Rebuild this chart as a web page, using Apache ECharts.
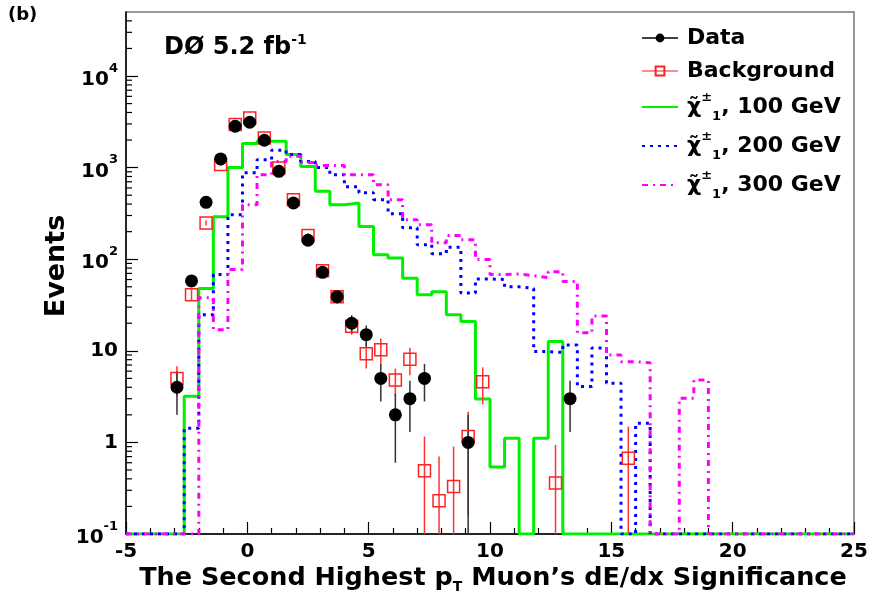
<!DOCTYPE html>
<html><head><meta charset="utf-8">
<script src="https://cdn.jsdelivr.net/npm/echarts@6/dist/echarts.min.js"></script>
<style>html,body{margin:0;padding:0;background:#fff}#c{width:876px;height:601px}</style>
</head><body><div id="c"></div>
<script>
// ---------- data ----------
const binEdges = [-5.0,-4.4,-3.8,-3.2,-2.6,-2.0,-1.4,-0.8,-0.2,0.4,1.0,1.6,2.2,2.8,3.4,4.0,4.6,5.2,5.8,6.4,7.0,7.6,8.2,8.8,9.4,10.0,10.6,11.2,11.8,12.4,13.0,13.6,14.2,14.8,15.4,16.0,16.6,17.2,17.8,18.4,19.0,19.6,20.2,20.8,21.4,22.0,22.6,23.2,23.8,24.4,25.0];

const sig100 = [0,0,0,0,3.2,48,290,1000,1830,1940,1940,1390,1030,551,394,411,228,112,103,62,41,44,24.7,20.9,2.97,0.54,1.11,0,1.11,12.6,0,0,0,0,0,0,0,0,0,0,0,0,0,0,0,0,0,0,0,0];
const sig200 = [0,0,0,0,1.43,24.7,68,306,881,1222,1545,1387,1164,1000,838,620,533,447,314,221,144,115,135,42.8,61,60,50,48,9.8,9.6,11.6,4.07,10.7,4.43,0,1.62,0,0,0,0,0,0,0,0,0,0,0,0,0,0];
const sig300 = [0,0,0,0,0,38,17,77,394,838,1164,1330,1135,1052,1052,838,838,651,447,270,238,151,181,163,99,68,69,66,63,73,57,15.7,24,9.0,7.6,7.4,0,0,3.04,4.8,0,0,0,0,0,0,0,0,0,0];

const dataX   = [-2.9,-2.3,-1.7,-1.1,-0.5,0.1,0.7,1.3,1.9,2.5,3.1,3.7,4.3,4.9,5.5,6.1,6.7,7.3,9.1,13.3];
const dataY   = [4,58,418,1245,2830,3130,1990,912,411,161,72,39,20,15,5,2,3,5,1,3];
const dataErr = [2,7.6,20,35,53,56,45,30,20,12.7,8.5,6.2,4.5,3.9,2.2,1.4,1.7,2.2,1,1.7];

const bkgX   = [-2.9,-2.3,-1.7,-1.1,-0.5,0.1,0.7,1.3,1.9,2.5,3.1,3.7,4.3,4.9,5.5,6.1,6.7,7.3,7.9,8.5,9.1,9.7,12.7,15.7];
const bkgY   = [5.0,41,249,1080,2950,3490,2110,993,447,181,75,39,18.5,9.3,10.3,4.8,8.1,0.49,0.23,0.33,1.16,4.6,0.36,0.67];
const bkgErr = [1.8,6,15,30,50,55,45,30,20,12,8,6,3.5,2.9,3.3,1.6,2.7,0.67,0.47,0.57,1.0,2.0,0.58,0.82];

const xTicks = {min: -5, max: 25, interval: 5};
const yRange = {min: 0.1, max: 5e4};

const nameData = 'Data', nameBkg = 'Background';
const name100 = '\u03C7\u0303\u00B1\u2081, 100 GeV';
const name200 = '\u03C7\u0303\u00B1\u2081, 200 GeV';
const name300 = '\u03C7\u0303\u00B1\u2081, 300 GeV';

// ---------- helpers ----------
const FF = 'DejaVu Sans';
const yMin = yRange.min;
function stepData(vals) {
  const pts = vals.map((v, i) => [binEdges[i], Math.max(v, yMin)]);
  pts.push([binEdges[vals.length], Math.max(vals[vals.length - 1], yMin)]);
  return pts;
}
function errSeries(xs, ys, es, color, width) {
  return {
    type: 'custom', silent: true, z: 3, clip: true,
    data: xs.map((x, i) => [x, Math.max(ys[i] - es[i], yMin), ys[i] + es[i]]),
    encode: {x: 0, y: [1, 2]},
    renderItem: (params, api) => {
      const lo = api.coord([api.value(0), api.value(1)]);
      const hi = api.coord([api.value(0), api.value(2)]);
      return {type: 'line', shape: {x1: lo[0], y1: lo[1], x2: hi[0], y2: hi[1]},
              style: {stroke: color, lineWidth: width}};
    }
  };
}
const yMinor = [];
for (let d = -1; d <= 4; d++) for (let m = 2; m <= 9; m++) {
  const v = m * Math.pow(10, d); if (v < yRange.max) yMinor.push(v);
}

const chart = echarts.init(document.getElementById('c'), null, {renderer: 'canvas'});
const option = {
  animation: false,
  backgroundColor: '#fff',
  grid: {left: 126, right: 22, top: 12, bottom: 67, show: true, borderColor: '#777', borderWidth: 1.5},
  xAxis: {
    type: 'value', min: xTicks.min, max: xTicks.max, interval: xTicks.interval,
    axisLine: {onZero: false, lineStyle: {color: '#000', width: 1.5}},
    axisTick: {inside: true, length: 12, lineStyle: {color: '#000', width: 1.2}},
    minorTick: {show: true, splitNumber: 5, length: 6, lineStyle: {color: '#000', width: 1.2}},
    splitLine: {show: false},
    axisLabel: {fontFamily: FF, fontWeight: 'bold', fontSize: 20, color: '#000', margin: 8}
  },
  yAxis: {
    type: 'log', logBase: 10, min: yRange.min, max: yRange.max,
    axisLine: {onZero: false, lineStyle: {color: '#000', width: 1.5}},
    axisTick: {inside: true, length: 12, lineStyle: {color: '#000', width: 1.2}},
    splitLine: {show: false},
    axisLabel: {
      margin: 8, showMaxLabel: false,
      formatter: v => {
        const e = Math.round(Math.log10(v));
        if (e === 0) return '{b|1}';
        if (e === 1) return '{b|10}';
        return '{bb|10}{s|' + e + '}';
      },
      rich: {
        b: {fontFamily: FF, fontWeight: 'bold', fontSize: 20, color: '#000', lineHeight: 28},
        bb: {fontFamily: FF, fontWeight: 'bold', fontSize: 20, color: '#000', lineHeight: 28, padding: [8, 0, 0, 0]},
        s: {fontFamily: FF, fontWeight: 'bold', fontSize: 13, color: '#000', verticalAlign: 'top', lineHeight: 14}
      }
    }
  },
  legend: {
    orient: 'vertical', left: 636, top: 20, itemWidth: 36, itemHeight: 11, itemGap: 7,
    selectedMode: false,
    data: [
      {name: nameData, lineStyle: {color: '#000', width: 1.5, opacity: 1, type: 'solid'}},
      {name: nameBkg, lineStyle: {color: '#ff6666', width: 1.5, opacity: 1, type: 'solid'}},
      {name: name100, itemStyle: {opacity: 0}},
      {name: name200, itemStyle: {opacity: 0}},
      {name: name300, itemStyle: {opacity: 0}}
    ],
    formatter: n => {
      const m = n.match(/(\d+) GeV/);
      if (m) return '{c|\u03C7\u0303}{p|\u00B1}{q|1}{t|, ' + m[1] + ' GeV}';
      return '{t|' + n + '}';
    },
    textStyle: {
      padding: [0, 0, 0, 4],
      rich: {
        t: {fontFamily: FF, fontWeight: 'bold', fontSize: 22, color: '#000', lineHeight: 29, padding: [2, 0, 2, 0]},
        c: {fontFamily: FF, fontWeight: 'bold', fontSize: 22, color: '#000', lineHeight: 32},
        p: {fontFamily: FF, fontWeight: 'bold', fontSize: 13, color: '#000', verticalAlign: 'top', lineHeight: 13},
        q: {fontFamily: FF, fontWeight: 'bold', fontSize: 13, color: '#000', verticalAlign: 'bottom', lineHeight: 13}
      }
    }
  },
  graphic: [
    {type: 'text', left: 8, top: 6, style: {text: '(b)', fontFamily: FF, fontWeight: 'bold', fontSize: 18, fill: '#000'}},
    {type: 'text', left: 164, top: 33, style: {
      text: '{a|D\u00D8 5.2 fb}{s|-1}',
      rich: {a: {fontFamily: FF, fontWeight: 'bold', fontSize: 24, fill: '#000', lineHeight: 30},
             s: {fontFamily: FF, fontWeight: 'bold', fontSize: 14, fill: '#000', verticalAlign: 'top', lineHeight: 14}}}},
    {type: 'text', x: 493, y: 578, style: {
      text: '{a|The Second Highest p}{s|T}{a| Muon\u2019s dE/dx Significance}',
      align: 'center', verticalAlign: 'middle',
      rich: {a: {fontFamily: FF, fontWeight: 'bold', fontSize: 25.5, fill: '#000', lineHeight: 32},
             s: {fontFamily: FF, fontWeight: 'bold', fontSize: 14, fill: '#000', verticalAlign: 'bottom', lineHeight: 14}}}},
    {type: 'text', x: 57, y: 266, rotation: Math.PI / 2, style: {
      text: 'Events', fontFamily: FF, fontWeight: 'bold', fontSize: 27, fill: '#000', align: 'center', verticalAlign: 'middle'}}
  ],
  series: [
    {type: 'custom', silent: true, z: 1, clip: false,
     data: yMinor.map(v => [xTicks.min, v]), encode: {x: 0, y: 1},
     renderItem: (params, api) => {
       const p = api.coord([api.value(0), api.value(1)]);
       return {type: 'line', shape: {x1: p[0], y1: p[1], x2: p[0] + 6, y2: p[1]}, style: {stroke: '#000', lineWidth: 1.2}};
     }},
    {name: name100, type: 'line', step: 'end', symbol: 'none', data: stepData(sig100), z: 2,
     lineStyle: {color: '#00f000', width: 3}, itemStyle: {color: '#00f000'}},
    {name: name200, type: 'line', step: 'end', symbol: 'none', data: stepData(sig200), z: 2,
     lineStyle: {color: '#0000ff', width: 3, type: [3, 5]}, itemStyle: {color: '#0000ff'}},
    {name: name300, type: 'line', step: 'end', symbol: 'none', data: stepData(sig300), z: 2,
     lineStyle: {color: '#ff00ff', width: 3, type: [6, 5, 2, 5]}, itemStyle: {color: '#ff00ff'}},
    errSeries(bkgX, bkgY, bkgErr, '#ff3333', 1.5),
    {name: nameBkg, type: 'line', data: bkgX.map((x, i) => [x, bkgY[i]]), z: 4,
     symbol: 'rect', symbolSize: 12, showAllSymbol: true,
     lineStyle: {width: 0, opacity: 0},
     itemStyle: {color: 'rgba(255,255,255,0)', borderColor: '#ff2222', borderWidth: 1.5}},
    errSeries(dataX, dataY, dataErr, '#333', 1.5),
    {name: nameData, type: 'line', data: dataX.map((x, i) => [x, dataY[i]]), z: 5,
     symbol: 'circle', symbolSize: 13, showAllSymbol: true,
     lineStyle: {width: 0, opacity: 0},
     itemStyle: {color: '#000'}}
  ]
};
chart.setOption(option);
</script>
</body></html>
